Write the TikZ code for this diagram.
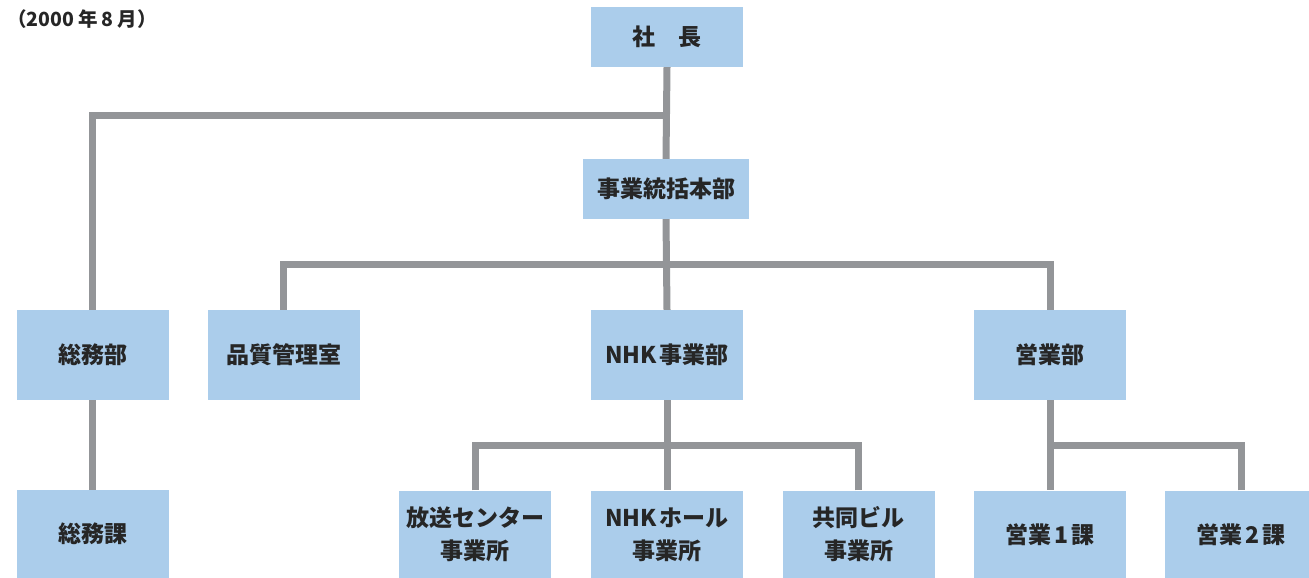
\documentclass[tikz,border=0pt]{standalone}
\usepackage{fontspec}
\setmainfont{Noto Sans CJK JP}
\newfontfamily\jpfont{Noto Sans CJK JP}
\definecolor{boxblue}{HTML}{ABCDEB}
\definecolor{linegray}{HTML}{939598}
\begin{document}
\begin{tikzpicture}[x=1pt,y=-1pt,
  orgbox/.style={fill=boxblue, draw=none, minimum width=152pt, minimum height=90pt, inner sep=0pt, align=center, font=\jpfont\bfseries\fontsize{23}{33}\selectfont, text=black!85},
  conn/.style={draw=linegray, line width=7pt, line cap=butt, line join=miter}
]
\useasboundingbox (0,0) rectangle (1309,578);
% nodes
\node[orgbox, minimum height=60pt] (shacho) at (667,37) {社　長};
\node[orgbox, minimum height=60pt, minimum width=166pt] (jigyo) at (666,189) {事業統括本部};
\node[orgbox] (soumubu) at (92.5,355) {総務部};
\node[orgbox] (hinshitsu) at (283.5,355) {品質管理室};
\node[orgbox] (nhkbu) at (667,355) {NHK\hspace{3pt}事業部};
\node[orgbox] (eigyobu) at (1050,355) {営業部};
\node[orgbox, minimum height=88pt] (soumuka) at (92.5,534) {総務課};
\node[orgbox, minimum height=88pt] (housou) at (475,534.5) {放送センター\\事業所};
\node[orgbox, minimum height=88pt] (hall) at (667,534.5) {NHK\hspace{3pt}ホール\\事業所};
\node[orgbox, minimum height=88pt] (kyoudou) at (858.5,534.5) {共同ビル\\事業所};
\node[orgbox, minimum height=88pt] (eigyo1) at (1050,534.5) {営業\hspace{3pt}1\hspace{3pt}課};
\node[orgbox, minimum height=88pt] (eigyo2) at (1241,534.5) {営業\hspace{3pt}2\hspace{3pt}課};
\node[anchor=west, inner sep=0pt, font=\jpfont\bfseries\fontsize{19.5}{21}\selectfont, text=black!85] (date) at (7,19) {（2000\hspace{4pt}年\hspace{4pt}8\hspace{4pt}月）};
% junction coordinates
\coordinate (b1) at (667,115);
\coordinate (b2) at (667,264);
\coordinate (b3) at (667,445);
\coordinate (b4) at (1050,445);
% connectors
\draw[conn] (shacho.south) -- (jigyo.north);
\draw[conn] (soumubu.north) |- (b1);
\draw[conn] (jigyo.south) -- (nhkbu.north);
\draw[conn] (hinshitsu.north) |- (b2);
\draw[conn] (eigyobu.north) |- (b2);
\draw[conn] (soumubu.south) -- (soumuka.north);
\draw[conn] (nhkbu.south) -- (hall.north);
\draw[conn] (housou.north) |- (b3);
\draw[conn] (kyoudou.north) |- (b3);
\draw[conn] (eigyobu.south) -- (eigyo1.north);
\draw[conn] (eigyo2.north) |- (b4);
\end{tikzpicture}
\end{document}
